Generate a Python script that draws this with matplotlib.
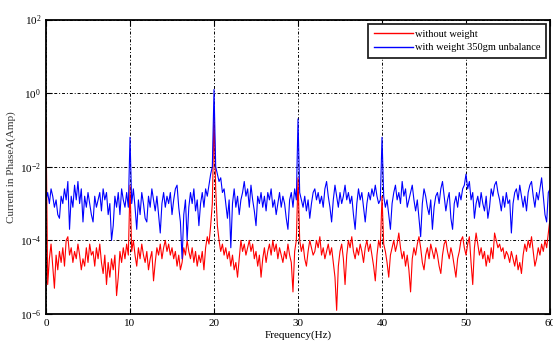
import numpy as np
import matplotlib
matplotlib.use("Agg")
import matplotlib.pyplot as plt

plt.rcParams['font.family'] = ['Liberation Serif', 'DejaVu Serif']
plt.rcParams['mathtext.fontset'] = 'custom'
plt.rcParams['mathtext.rm'] = 'Liberation Serif'
plt.rcParams['mathtext.it'] = 'Liberation Serif:italic'

# frequency bins, 0.2 Hz apart
freq_step = 0.2
n_bins = 301

# amplitudes, in tenths of a decade (value = 10**(v/10))
with_weight = [
    -29, -27, -30, -26, -28, -31, -29, -33, -34, -28,
    -30, -26, -29, -24, -37, -28, -31, -25, -29, -24,
    -30, -26, -35, -28, -31, -27, -30, -33, -35, -28,
    -31, -29, -27, -32, -26, -29, -27, -33, -30, -40,
    -36, -28, -31, -27, -33, -26, -29, -31, -27, -31,
    # 10 Hz
    -12, -30, -26, -31, -37, -29, -33, -27, -30, -34,
    -35, -28, -31, -26, -29, -32, -28, -33, -38, -30,
    -27, -31, -28, -30, -27, -33, -29, -26, -25, -31,
    -35, -45, -33, -29, -40, -31, -27, -30, -26, -32,
    -29, -36, -30, -27, -31, -26, -28, -25, -22, -20,
    # 20 Hz
    1, -20, -22, -24, -23, -27, -26, -30, -34, -29,
    -42, -30, -26, -31, -28, -33, -29, -27, -24, -28,
    -26, -31, -25, -29, -32, -36, -28, -30, -27, -31,
    -28, -32, -27, -29, -26, -31, -29, -33, -30, -27,
    -31, -28, -30, -34, -37, -29, -27, -31, -26, -29,
    # 30 Hz
    -7, -27, -29, -31, -28, -32, -29, -34, -30, -27,
    -26, -29, -27, -30, -28, -31, -26, -24, -28, -31,
    -35, -29, -25, -28, -31, -27, -30, -28, -25, -29,
    -27, -30, -28, -33, -37, -30, -26, -29, -27, -31,
    -35, -30, -27, -29, -26, -28, -25, -28, -30, -29,
    # 40 Hz
    -12, -28, -31, -29, -33, -37, -30, -27, -25, -29,
    -27, -30, -24, -28, -26, -31, -29, -27, -25, -29,
    -32, -29, -34, -39, -30, -26, -28, -31, -33, -29,
    -37, -31, -28, -27, -30, -26, -24, -28, -32, -29,
    -27, -34, -37, -30, -28, -31, -27, -29, -26, -25,
    # 50 Hz
    -22, -26, -24, -29, -27, -34, -30, -28, -31, -27,
    -30, -32, -28, -34, -31, -26, -28, -25, -24, -27,
    -29, -32, -28, -31, -27, -30, -29, -38, -30, -27,
    -26, -29, -25, -28, -31, -28, -32, -27, -25, -24,
    -28, -31, -27, -29, -26, -23, -28, -33, -35, -27,
    -26,
]

without_weight = [
    -8, -52, -45, -41, -47, -53, -44, -48, -43, -46,
    -42, -47, -40, -39, -44, -42, -46, -43, -45, -41,
    -44, -48, -45, -47, -42, -46, -41, -44, -43, -47,
    -42, -45, -41, -46, -49, -44, -52, -46, -50, -45,
    -48, -44, -55, -50, -43, -46, -42, -45, -41, -44,
    # 10 Hz
    -25, -43, -40, -44, -47, -42, -45, -41, -44, -46,
    -43, -48, -45, -43, -51, -46, -42, -44, -41, -45,
    -42, -40, -43, -41, -44, -42, -45, -43, -47, -44,
    -48, -46, -42, -44, -40, -43, -45, -42, -46, -43,
    -47, -44, -46, -43, -48, -42, -39, -41, -36, -30,
    # 20 Hz
    -6, -26, -36, -40, -43, -41, -44, -42, -45, -43,
    -47, -44, -48, -46, -50, -45, -40, -43, -41, -44,
    -42, -40, -43, -41, -45, -43, -47, -44, -50, -45,
    -42, -46, -43, -41, -44, -40, -43, -41, -45, -42,
    -44, -46, -43, -45, -41, -44, -46, -54, -43, -40,
    # 30 Hz
    -23, -40, -43, -41, -45, -47, -43, -40, -42, -44,
    -43, -40, -42, -39, -44, -42, -45, -43, -41, -44,
    -42, -46, -50, -59, -47, -43, -41, -45, -52, -44,
    -40, -42, -39, -43, -45, -42, -44, -41, -43, -46,
    -42, -40, -43, -41, -44, -47, -51, -44, -40, -42,
    # 40 Hz
    -28, -41, -43, -46, -50, -44, -42, -40, -43, -41,
    -38, -42, -45, -43, -47, -44, -48, -54, -45, -42,
    -44, -41, -39, -42, -46, -48, -44, -42, -45, -41,
    -43, -45, -42, -44, -47, -49, -44, -41, -40, -43,
    -45, -42, -44, -47, -50, -45, -43, -40, -39, -42,
    # 50 Hz
    -44, -41, -39, -46, -52, -42, -38, -41, -44, -42,
    -45, -43, -47, -44, -46, -42, -45, -38, -40, -42,
    -41, -43, -42, -45, -43, -44, -46, -43, -45, -47,
    -44, -48, -46, -49, -44, -41, -43, -40, -42, -39,
    -43, -47, -45, -42, -44, -41, -43, -40, -42, -38,
    -34,
]

labels = ['without weight', 'with weight 350gm unbalance']
x_ticks = [0, 10, 20, 30, 40, 50, 60]
y_ticks = [1e-6, 1e-4, 1e-2, 1e0, 1e2]

freq = np.arange(n_bins) * freq_step
red = 10 ** (np.array(without_weight) / 10.0)
blue = 10 ** (np.array(with_weight) / 10.0)

fig = plt.figure(figsize=(5.53, 3.47), dpi=100)
ax = fig.add_axes([0.0832, 0.0951, 0.9114, 0.8487])

ax.plot(freq, red, color='red', lw=0.8, label=labels[0])
ax.plot(freq, blue, color='blue', lw=0.8, label=labels[1])

ax.set_yscale('log')
ax.set_xlim(0, 60)
ax.set_ylim(1e-6, 1e2)
ax.set_xticks(x_ticks)
ax.set_yticks(y_ticks)
ax.minorticks_off()
ax.grid(True, color='black', linestyle=(0, (3, 2, 1, 2)), linewidth=0.7)
ax.tick_params(direction='in', top=True, right=True, length=4, width=0.8,
               labelsize=8, colors='black')
for s in ax.spines.values():
    s.set_linewidth(1.3)

ax.set_xlabel('Frequency(Hz)', fontsize=8, labelpad=2)
ax.set_ylabel('Current in PhaseA(Amp)', fontsize=8, color='#333333', labelpad=3)

leg = ax.legend(loc='upper right', bbox_to_anchor=(0.993, 0.985), borderaxespad=0,
                fontsize=7.5, frameon=True, fancybox=False, framealpha=1,
                handlelength=3.8, handletextpad=0.2, borderpad=0.55, labelspacing=0.4)
leg.get_frame().set_edgecolor('#222222')
leg.get_frame().set_linewidth(1.3)
for line in leg.get_lines():
    line.set_linewidth(1.0)

plt.savefig('out.png', dpi=100)
